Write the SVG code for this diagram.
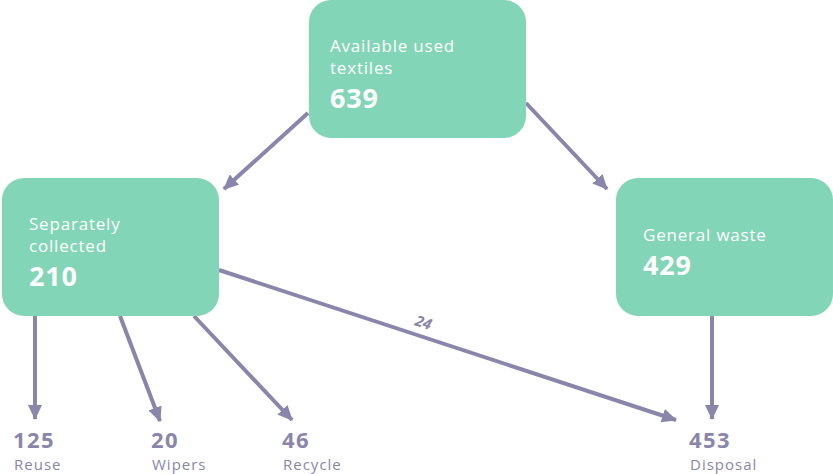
<svg xmlns="http://www.w3.org/2000/svg" width="833" height="474" viewBox="0 0 833 474">
<style>
.box{fill:#82d5b6}
.lbl{font-family:"Open Sans","Liberation Sans",sans-serif;font-size:17px;fill:#ffffff;letter-spacing:0.8px}
.num{font-family:"Open Sans","Liberation Sans",sans-serif;font-size:27px;font-weight:bold;fill:#ffffff;letter-spacing:0.8px}
.onum{font-family:"Open Sans","Liberation Sans",sans-serif;font-size:22px;font-weight:bold;fill:#8a85ab;letter-spacing:1.4px}
.olbl{font-family:"Open Sans","Liberation Sans",sans-serif;font-size:15px;fill:#8a85ab;letter-spacing:1px}
.edge{stroke:#8a85ab;stroke-width:4;fill:none}
.elbl{font-family:"Open Sans","Liberation Sans",sans-serif;font-size:15px;font-weight:bold;font-style:italic;fill:#8a85ab}
</style>
<defs>
<marker id="ah" markerUnits="userSpaceOnUse" markerWidth="16" markerHeight="14" refX="14" refY="7" orient="auto">
<path d="M0,0 L15,7 L0,14 Z" fill="#8a85ab"/>
</marker>
</defs>
<g id="connectors">
<line class="edge" x1="308" y1="113" x2="224" y2="189" marker-end="url(#ah)"/>
<line class="edge" x1="526" y1="103" x2="607" y2="189" marker-end="url(#ah)"/>
<line class="edge" x1="35" y1="316" x2="35" y2="419" marker-end="url(#ah)"/>
<line class="edge" x1="120" y1="316" x2="160" y2="421" marker-end="url(#ah)"/>
<line class="edge" x1="194" y1="316" x2="292" y2="420" marker-end="url(#ah)"/>
<line class="edge" x1="219" y1="270" x2="676" y2="420" marker-end="url(#ah)"/>
<line class="edge" x1="712" y1="316" x2="712" y2="419" marker-end="url(#ah)"/>
<text class="elbl" transform="translate(414,325) rotate(18)">24</text>
</g>
<g id="available">
<rect class="box" x="309" y="0" width="217" height="138" rx="22"/>
<text class="lbl" x="330" y="52">Available used</text>
<text class="lbl" x="330" y="74">textiles</text>
<text class="num" x="330" y="108">639</text>
</g>
<g id="separately">
<rect class="box" x="2" y="178" width="217" height="138" rx="22"/>
<text class="lbl" x="29" y="230">Separately</text>
<text class="lbl" x="29" y="252">collected</text>
<text class="num" x="29" y="286">210</text>
</g>
<g id="general">
<rect class="box" x="616" y="178" width="217" height="138" rx="22"/>
<text class="lbl" x="643" y="241">General waste</text>
<text class="num" x="643" y="275">429</text>
</g>
<g id="reuse">
<text class="onum" x="13" y="448">125</text>
<text class="olbl" x="14" y="470">Reuse</text>
</g>
<g id="wipers">
<text class="onum" x="151" y="448">20</text>
<text class="olbl" x="152" y="470">Wipers</text>
</g>
<g id="recycle">
<text class="onum" x="282" y="448">46</text>
<text class="olbl" x="283" y="470">Recycle</text>
</g>
<g id="disposal">
<text class="onum" x="689" y="448">453</text>
<text class="olbl" x="690" y="470">Disposal</text>
</g>
</svg>
